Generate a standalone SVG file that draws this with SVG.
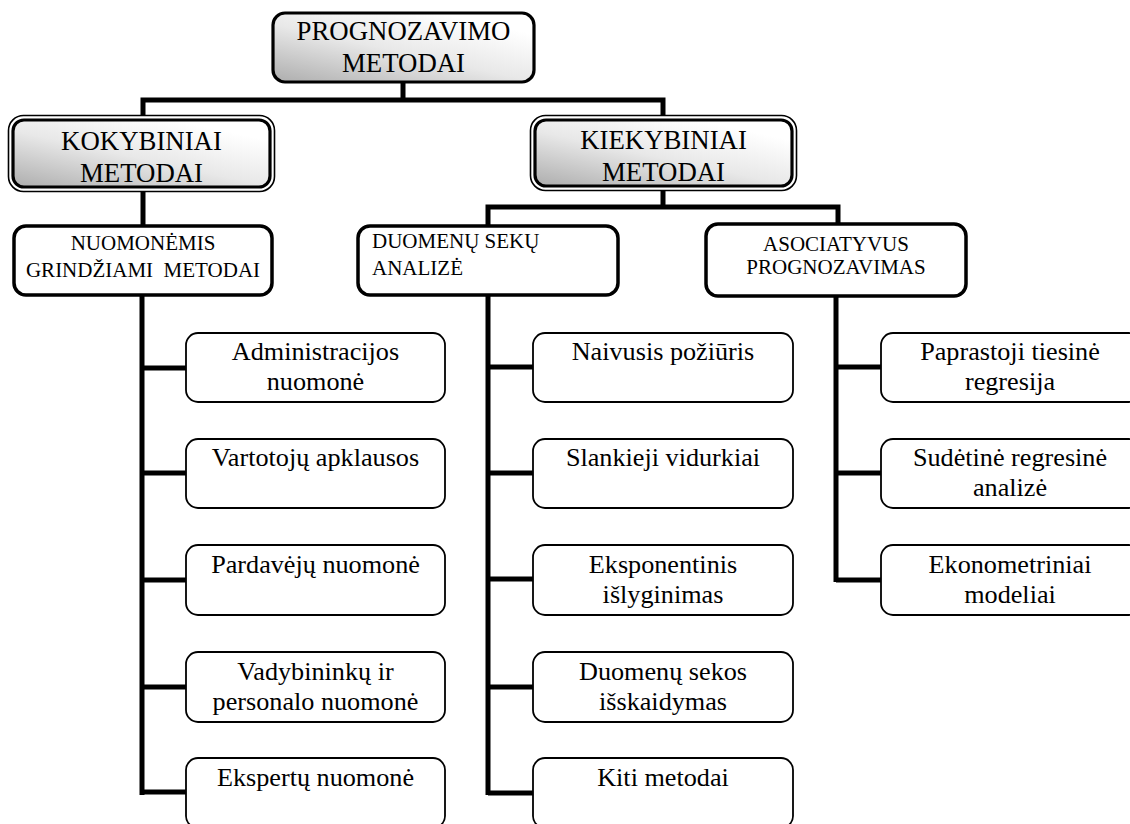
<svg xmlns="http://www.w3.org/2000/svg" width="1130" height="824" viewBox="0 0 1130 824" font-family="'Liberation Serif', Tinos, 'Times New Roman', 'DejaVu Serif', serif">
<defs>
<linearGradient id="g" x1="0" y1="1" x2="0.75" y2="0.1">
<stop offset="0" stop-color="#adadad"/>
<stop offset="0.55" stop-color="#e8e8e8"/>
<stop offset="1" stop-color="#ffffff"/>
</linearGradient>
<style>
text{font-family:'Liberation Serif', Tinos, 'Times New Roman', 'DejaVu Serif', serif;fill:#000;text-anchor:middle}
.t1{font-size:26.8px}
.t2{font-size:21px}
.leaf text{font-size:26.2px}
.leafbox{fill:#fff;stroke:#000;stroke-width:1.8}
.midbox{fill:#fff;stroke:#000;stroke-width:3.5}
.outer{fill:#fff;stroke:#000;stroke-width:1.6}
.inner{fill:url(#g);stroke:#000;stroke-width:3.2}
.conn{fill:none;stroke:#000;stroke-width:5;stroke-linejoin:miter;stroke-linecap:butt}
</style>
</defs>
<rect width="1130" height="824" fill="#fff"/>
<g id="connectors" class="conn">
<path d="M403,83 V100 M143,118 V100 H663 V118"/>
<path d="M143,192 V226"/>
<path d="M663,190 V207 M488,226 V207 H838 V224"/>
<path d="M142,295 V795 M142,368 H186 M142,473 H186 M142,580 H186 M142,687 H186 M142,792 H186"/>
<path d="M488,295 V795 M488,367 H533 M488,473 H533 M488,579 H533 M488,687 H533 M488,793 H533"/>
<path d="M836,297 V582 M836,367 H881 M836,473 H881 M836,580 H881"/>
</g>
<g id="n-root">
<rect x="273" y="13" width="261" height="69" rx="12" class="inner" stroke-width="4"/>
<text class="t1" x="403.5" y="40">PROGNOZAVIMO</text>
<text class="t1" x="403.5" y="72">METODAI</text>
</g>
<g id="n-kokybiniai">
<rect x="8.5" y="115.5" width="266" height="76" rx="15" class="outer"/>
<rect x="13" y="120" width="257" height="67" rx="11" class="inner"/>
<text class="t1" x="141.5" y="150">KOKYBINIAI</text>
<text class="t1" x="141.5" y="182">METODAI</text>
</g>
<g id="n-kiekybiniai">
<rect x="530.5" y="115.5" width="266" height="75" rx="15" class="outer"/>
<rect x="535" y="120" width="257" height="66" rx="11" class="inner"/>
<text class="t1" x="663.5" y="149">KIEKYBINIAI</text>
<text class="t1" x="663.5" y="181">METODAI</text>
</g>
<g id="n-nuomonemis">
<rect x="14" y="226" width="258" height="69" rx="12" class="midbox"/>
<text class="t2" x="143" y="250">NUOMONĖMIS</text>
<text class="t2" x="143" y="277" xml:space="preserve">GRINDŽIAMI  METODAI</text>
</g>
<g id="n-duomenu">
<rect x="358" y="226" width="260" height="69" rx="12" class="midbox"/>
<text class="t2" x="372" y="248" style="text-anchor:start">DUOMENŲ SEKŲ</text>
<text class="t2" x="372" y="275" style="text-anchor:start">ANALIZĖ</text>
</g>
<g id="n-asociatyvus">
<rect x="706" y="224" width="260" height="72" rx="12" class="midbox"/>
<text class="t2" x="836" y="251">ASOCIATYVUS</text>
<text class="t2" x="836" y="274">PROGNOZAVIMAS</text>
</g>
<g id="n-administracijos" class="leaf">
<rect x="186" y="333" width="259" height="69" rx="12" class="leafbox"/>
<text x="315.5" y="360">Administracijos</text>
<text x="315.5" y="390">nuomonė</text>
</g>
<g id="n-vartotoju" class="leaf">
<rect x="186" y="439" width="259" height="69" rx="12" class="leafbox"/>
<text x="315.5" y="466">Vartotojų apklausos</text>
</g>
<g id="n-pardaveju" class="leaf">
<rect x="186" y="545" width="259" height="70" rx="12" class="leafbox"/>
<text x="315.5" y="573">Pardavėjų nuomonė</text>
</g>
<g id="n-vadybininku" class="leaf">
<rect x="186" y="652" width="259" height="70" rx="12" class="leafbox"/>
<text x="315.5" y="680">Vadybininkų ir</text>
<text x="315.5" y="710">personalo nuomonė</text>
</g>
<g id="n-ekspertu" class="leaf">
<rect x="186" y="758" width="259" height="70" rx="12" class="leafbox"/>
<text x="315.5" y="786">Ekspertų nuomonė</text>
</g>
<g id="n-naivusis" class="leaf">
<rect x="533" y="333" width="260" height="69" rx="12" class="leafbox"/>
<text x="663" y="360">Naivusis požiūris</text>
</g>
<g id="n-slankieji" class="leaf">
<rect x="533" y="439" width="260" height="69" rx="12" class="leafbox"/>
<text x="663" y="466">Slankieji vidurkiai</text>
</g>
<g id="n-eksponentinis" class="leaf">
<rect x="533" y="545" width="260" height="70" rx="12" class="leafbox"/>
<text x="663" y="573">Eksponentinis</text>
<text x="663" y="603">išlyginimas</text>
</g>
<g id="n-duomenu-sekos" class="leaf">
<rect x="533" y="652" width="260" height="70" rx="12" class="leafbox"/>
<text x="663" y="680">Duomenų sekos</text>
<text x="663" y="710">išskaidymas</text>
</g>
<g id="n-kiti" class="leaf">
<rect x="533" y="758" width="260" height="70" rx="12" class="leafbox"/>
<text x="663" y="786">Kiti metodai</text>
</g>
<g id="n-paprastoji" class="leaf">
<rect x="881" y="333" width="260" height="69" rx="12" class="leafbox"/>
<text x="1010" y="360">Paprastoji tiesinė</text>
<text x="1010" y="390">regresija</text>
</g>
<g id="n-sudetine" class="leaf">
<rect x="881" y="439" width="260" height="69" rx="12" class="leafbox"/>
<text x="1010" y="466">Sudėtinė regresinė</text>
<text x="1010" y="496">analizė</text>
</g>
<g id="n-ekonometriniai" class="leaf">
<rect x="881" y="545" width="260" height="70" rx="12" class="leafbox"/>
<text x="1010" y="573">Ekonometriniai</text>
<text x="1010" y="603">modeliai</text>
</g>
</svg>
